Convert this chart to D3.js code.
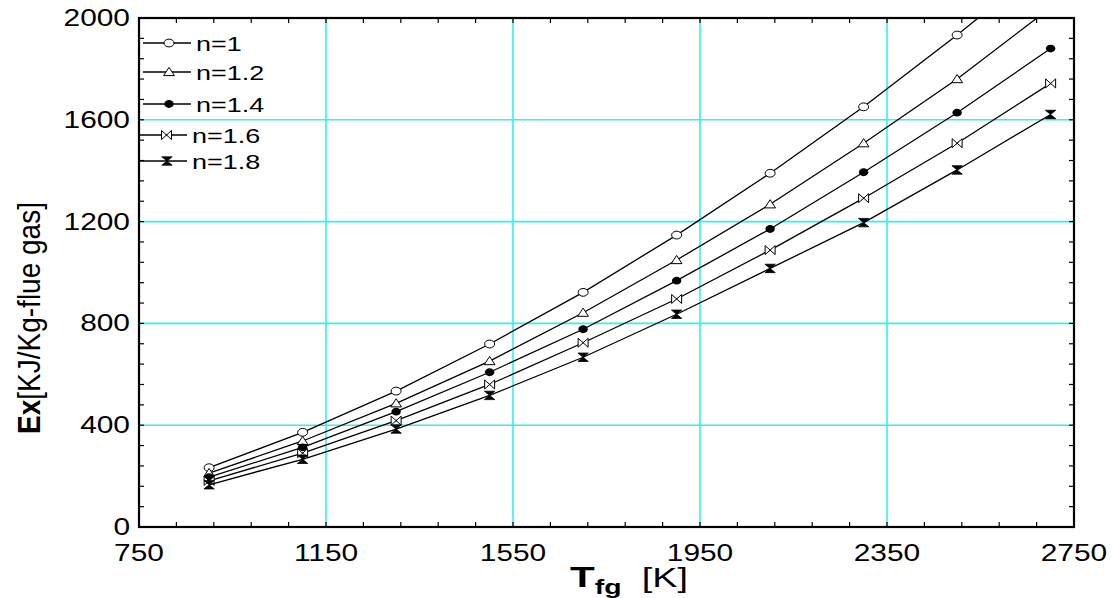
<!DOCTYPE html>
<html>
<head>
<meta charset="utf-8">
<script src="https://cdn.jsdelivr.net/npm/d3@7"></script>
<style>
  html, body { margin: 0; padding: 0; background: #fff; }
  svg { display: block; }
  text { font-family: "Liberation Sans", Arial, sans-serif; fill: #000; }
</style>
</head>
<body>
<svg id="chart" width="1113" height="598"></svg>
<script>
// Flue-gas temperature (K)
const temperatures = [900, 1100, 1300, 1500, 1700, 1900, 2100, 2300, 2500, 2700];

// Exergy of flue gas, kJ/kg, one array per exponent n
const exN10 = [233, 372, 534, 719, 922, 1147, 1390, 1651, 1933, 2231];
const exN12 = [212, 338, 486, 652, 842, 1049, 1268, 1508, 1760, 2041];
const exN14 = [196, 313, 453, 608, 777, 968, 1171, 1394, 1628, 1880];
const exN16 = [181, 290, 418, 560, 724, 896, 1088, 1292, 1508, 1743];
const exN18 = [166, 266, 385, 517, 667, 836, 1016, 1196, 1403, 1621];

const seriesNames = ["n=1", "n=1.2", "n=1.4", "n=1.6", "n=1.8"];
const seriesValues = [exN10, exN12, exN14, exN16, exN18];

const xTicks = [750, 1150, 1550, 1950, 2350, 2750];
const yTicks = [0, 400, 800, 1200, 1600, 2000];

const svg = d3.select("#chart");
const L = 139, R = 1074, T = 18, B = 527;
const SX = 1.3;   // horizontal stretch of glyphs

const x = d3.scaleLinear().domain([750, 2750]).range([L, R]);
const y = d3.scaleLinear().domain([0, 2000]).range([B, T]);

// grid
const grid = svg.append("g").attr("stroke", "#33f0f0").attr("stroke-width", 1.6);
xTicks.slice(1, -1).forEach(v => grid.append("line")
  .attr("x1", x(v)).attr("x2", x(v)).attr("y1", T).attr("y2", B));
yTicks.slice(1, -1).forEach(v => grid.append("line")
  .attr("x1", L).attr("x2", R).attr("y1", y(v)).attr("y2", y(v)));

// minor ticks pointing inward on all four sides
const minorX = d3.range(750, 2751, 80);
const minorY = d3.range(0, 2001, 80);
const ticks = svg.append("g").attr("stroke", "#000").attr("stroke-width", 1.2);
minorX.forEach(v => {
  ticks.append("line").attr("x1", x(v)).attr("x2", x(v)).attr("y1", B).attr("y2", B - 5);
  ticks.append("line").attr("x1", x(v)).attr("x2", x(v)).attr("y1", T).attr("y2", T + 5);
});
minorY.forEach(v => {
  ticks.append("line").attr("x1", L).attr("x2", L + 5).attr("y1", y(v)).attr("y2", y(v));
  ticks.append("line").attr("x1", R).attr("x2", R - 5).attr("y1", y(v)).attr("y2", y(v));
});

// data
svg.append("clipPath").attr("id", "plotClip")
  .append("rect").attr("x", L).attr("y", T).attr("width", R - L).attr("height", B - T);
const plot = svg.append("g").attr("clip-path", "url(#plotClip)");

const symbols = [
  g => g.append("ellipse").attr("rx", 5).attr("ry", 3.9).attr("fill", "#fff").attr("stroke", "#000").attr("stroke-width", 1),
  g => g.append("path").attr("d", "M0,-4.6L5.4,3.6L-5.4,3.6Z").attr("fill", "#fff").attr("stroke", "#000").attr("stroke-width", 1),
  g => g.append("ellipse").attr("rx", 4.7).attr("ry", 3.9).attr("fill", "#000"),
  g => g.append("path").attr("d", "M-5,-4.5L5,4.5L5,-4.5L-5,4.5Z").attr("fill", "#fff").attr("stroke", "#000").attr("stroke-width", 1),
  g => g.append("path").attr("d", "M-5.2,-4.2L5.2,-4.2L-5.2,4.2L5.2,4.2Z").attr("fill", "#000").attr("stroke", "#000").attr("stroke-width", 0.8)
];

const line = d3.line().x(d => x(d[0])).y(d => y(d[1]));
seriesValues.forEach((vals, i) => {
  const pts = temperatures.map((t, k) => [t, vals[k]]);
  plot.append("path").datum(pts).attr("d", line)
    .attr("fill", "none").attr("stroke", "#000").attr("stroke-width", 1.3);
  pts.forEach(p => {
    const g = plot.append("g").attr("transform", `translate(${x(p[0])},${y(p[1])})`);
    symbols[i](g);
  });
});

// frame
svg.append("rect").attr("x", L).attr("y", T).attr("width", R - L).attr("height", B - T)
  .attr("fill", "none").attr("stroke", "#000").attr("stroke-width", 2.2);

// tick labels
function label(px, py, str, opts = {}) {
  const g = svg.append("g").attr("transform", `translate(${px},${py}) scale(${opts.sx || SX},1)`);
  return g.append("text").attr("text-anchor", opts.anchor || "middle")
    .attr("font-size", opts.size || 23).text(str);
}
xTicks.forEach(v => label(x(v), 561, v));
yTicks.forEach(v => label(130, y(v) + 8, v, { anchor: "end" }));

// legend
const legendRows = [
  { y: 43, x1: 143, x2: 191, xm: 169, xt: 196 },
  { y: 72, x1: 143, x2: 191, xm: 169, xt: 196 },
  { y: 104, x1: 143, x2: 191, xm: 169, xt: 196 },
  { y: 135, x1: 140, x2: 187, xm: 166.5, xt: 192 },
  { y: 161, x1: 140, x2: 187, xm: 167, xt: 192 }
];
legendRows.forEach((r, i) => {
  svg.append("line").attr("x1", r.x1).attr("x2", r.x2).attr("y1", r.y).attr("y2", r.y)
    .attr("stroke", "#000").attr("stroke-width", 1.3);
  symbols[i](svg.append("g").attr("transform", `translate(${r.xm},${r.y})`));
  label(r.xt, r.y + 7.5, seriesNames[i], { anchor: "start", size: 20, sx: 1.35 });
});

// y axis title
const yt = svg.append("g").attr("transform", "translate(40,318) scale(1.12,1) rotate(-90)")
  .append("text").attr("text-anchor", "middle").attr("font-size", 28);
yt.append("tspan").attr("font-weight", "bold").text("Ex");
yt.append("tspan").text("[KJ/Kg-flue gas]");

// x axis title
const xt = svg.append("g").attr("transform", "translate(570,587) scale(1.35,1)")
  .append("text").attr("text-anchor", "start").attr("font-size", 30);
xt.append("tspan").attr("font-weight", "bold").text("T");
xt.append("tspan").attr("font-weight", "bold").attr("font-size", 21).attr("dy", 7).text("fg");
xt.append("tspan").attr("font-size", 28).attr("dy", -7).attr("dx", 15).text("[K]");
</script>
</body>
</html>
